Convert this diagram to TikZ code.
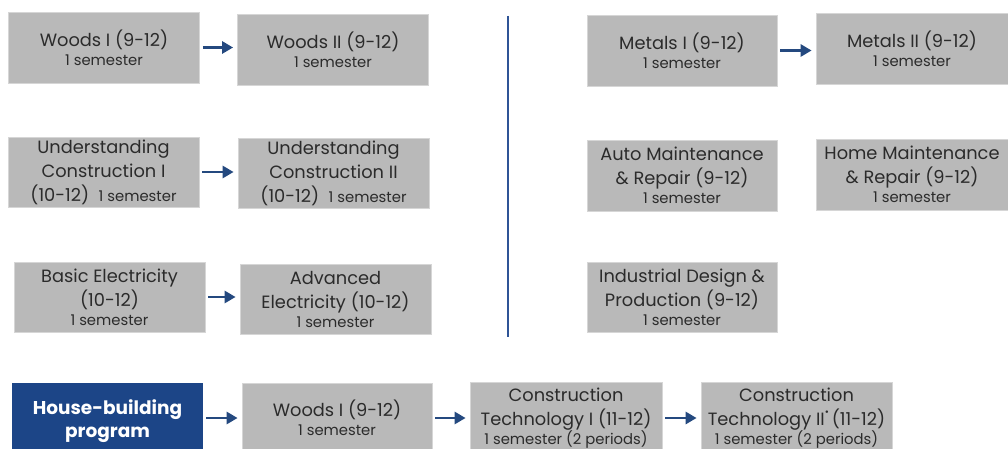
\documentclass[tikz,border=0pt]{standalone}
\usepackage{fontspec}
\setmainfont{Poppins}
\usetikzlibrary{arrows.meta}
\definecolor{boxgray}{HTML}{B9B9B9}
\definecolor{boxedge}{HTML}{D6D6D6}
\definecolor{txt}{HTML}{2B2B2B}
\definecolor{navy}{HTML}{1C4587}
\definecolor{arrblue}{HTML}{24497F}
\definecolor{linblue}{HTML}{2F5496}
\newcommand\tf{\fontsize{17.8}{24}\selectfont}
\newcommand\semf{\fontsize{14.8}{19}\selectfont}
\begin{document}
\begin{tikzpicture}[x=1pt,y=-1pt,
  course/.style={fill=boxgray,draw=boxedge,line width=0.8pt,minimum width=191pt,minimum height=71pt,inner sep=0pt,align=center,text=txt,font=\tf},
  arr/.style={arrblue,line width=2.8pt,-{Triangle[length=11pt,width=12pt]},shorten <=3pt,shorten >=4pt},
  sep/.style={linblue,line width=2.6pt}]
\clip (0,0) rectangle (1008,449);
\fill[white] (0,0) rectangle (1008,449);
% left column
\node[course] (w1) at (104,47.5) {Woods I (9-12)\\[-5pt]\semf 1 semester};
\node[course] (w2) at (333,49.5) {Woods II (9-12)\\[-5pt]\semf 1 semester};
\node[course,minimum height=70pt] (u1) at (103.5,172) {Understanding\\Construction I\\(10-12)\ \ {\semf 1 semester}};
\node[course,minimum height=70pt] (u2) at (333.5,173) {Understanding\\Construction II\\(10-12)\ \ {\semf 1 semester}};
\node[course,minimum height=70pt] (b1) at (109.5,297) {Basic Electricity\\(10-12)\\[-5pt]\semf 1 semester};
\node[course,minimum height=70pt] (b2) at (335.5,299) {Advanced\\Electricity (10-12)\\[-5pt]\semf 1 semester};
% separator
\coordinate (s1) at (508,16);
\coordinate (s2) at (508,337);
\draw[sep] (s1) -- (s2);
% right column
\node[course,minimum width=190pt] (m1) at (682,50.5) {Metals I (9-12)\\[-5pt]\semf 1 semester};
\node[course,minimum width=192pt] (m2) at (912,48.5) {Metals II (9-12)\\[-5pt]\semf 1 semester};
\node[course,minimum width=190pt] (au) at (682,175.5) {Auto Maintenance\\\& Repair (9-12)\\[-5pt]\semf 1 semester};
\node[course,minimum width=192pt] (ho) at (912,174.5) {Home Maintenance\\\& Repair (9-12)\\[-5pt]\semf 1 semester};
\node[course,minimum width=190pt,minimum height=70pt] (id) at (682,297) {Industrial Design \&\\Production (9-12)\\[-5pt]\semf 1 semester};
% bottom row
\node[fill=navy,minimum width=191pt,minimum height=76pt,inner sep=0pt,align=center,text=white,font=\bfseries\fontsize{18.5}{23}\selectfont] (hb) at (107.5,421) {House-building\\program};
\node[course,minimum width=190pt,minimum height=70pt] (w3) at (337,418) {Woods I (9-12)\\[-5pt]\semf 1 semester};
\node[course,minimum width=192pt,minimum height=72pt] (c1) at (566,418) {Construction\\Technology I (11-12)\\[-5pt]\semf 1 semester (2 periods)};
\node[course,minimum width=191pt,minimum height=72pt] (c2) at (796.5,418) {Construction\\Technology II\raisebox{0.55em}{\fontsize{10}{10}\selectfont •}\,(11-12)\\[-5pt]\semf 1 semester (2 periods)};
% arrows
\draw[arr] (w1.east) -- (w1.east -| w2.west);
\draw[arr] (u1.east) -- (u1.east -| u2.west);
\draw[arr] (b1.east) -- (b1.east -| b2.west);
\draw[arr] (m1.east) -- (m1.east -| m2.west);
\draw[arr] (w3.west -| hb.east) -- (w3.west);
\draw[arr] (w3.east) -- (w3.east -| c1.west);
\draw[arr] (c1.east) -- (c1.east -| c2.west);
\end{tikzpicture}
\end{document}
